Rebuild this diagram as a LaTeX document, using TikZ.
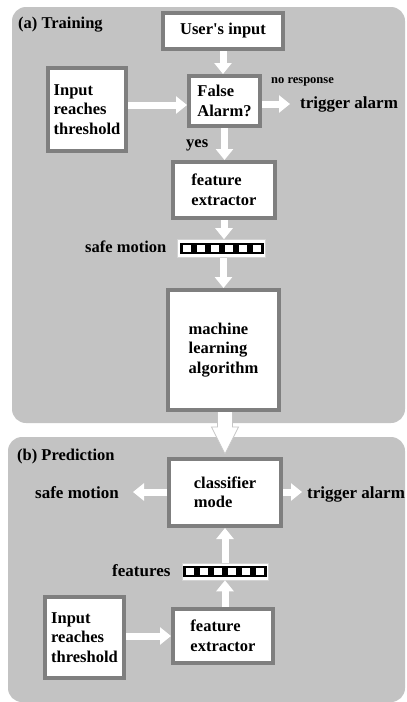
\documentclass[tikz,border=0pt]{standalone}
\usepackage{fontspec}
\setmainfont{Liberation Serif}
\usetikzlibrary{arrows.meta,calc}
\definecolor{panelgray}{HTML}{C3C3C3}
\definecolor{boxgray}{HTML}{7F7F7F}
\begin{document}
\begin{tikzpicture}[x=1pt,y=-1pt,
  every node/.style={font=\bfseries\fontsize{16.5}{19.5}\selectfont},
  box/.style={draw=boxgray, line width=4pt, fill=white, align=left, inner sep=0pt},
  lbl/.style={anchor=base west, inner sep=0pt},
  barrow/.style={draw=white, line width=7pt, -{Triangle[width=17pt,length=11pt,fill=white]}},
  vec/.style={draw=gray!35, line width=0.6pt, fill=white, minimum width=88pt, minimum height=18pt, inner sep=0pt},
  panel/.style={fill=panelgray, rounded corners=14pt}]
\useasboundingbox (0,0) rectangle (407,702);
\fill[white] (0,0) rectangle (407,702);
\path[panel] (12,7) rectangle (405,423);
\path[panel] (8,437) rectangle (405,702);

% boxes
\node[box, minimum width=120pt, minimum height=36pt] (user) at (223,31) {User\textquotesingle s input};
\node[box, minimum width=71pt, minimum height=50pt] (falarm) at (224.5,101) {False\\Alarm?};
\node[box, minimum width=78pt, minimum height=83pt] (inA) at (87,109.5) {Input\\reaches\\threshold};
\node[box, minimum width=102pt, minimum height=56pt] (featA) at (224,190) {feature\\extractor};
\node[box, minimum width=111pt, minimum height=120pt] (ml) at (223.5,350) {machine\\learning\\algorithm};
\node[box, minimum width=112pt, minimum height=67pt] (cls) at (225,492.5) {classifier\\mode};
\node[box, minimum width=79pt, minimum height=81pt] (inB) at (84.5,637.5) {Input\\reaches\\threshold};
\node[box, minimum width=100pt, minimum height=54pt] (featB) at (223,636) {feature\\extractor};

% feature vectors
\node[vec] (vecA) at (221.5,248.5) {};
\node[vec, minimum width=86pt, minimum height=17pt] (vecB) at (225,571.5) {};
\foreach \v in {vecA,vecB}{
  \fill[black] ($(\v.center)+(-42,-5.5)$) rectangle ($(\v.center)+(42,5.5)$);
  \foreach \dx in {-35,-21,-7,7,21,35}
    \fill[white] ($(\v.center)+({\dx-4},-4)$) rectangle ($(\v.center)+({\dx+4},3.5)$);
}

% labels
\node[lbl] (ta) at (18,28) {(a) Training};
\node[lbl] (tb) at (17,460) {(b) Prediction};
\node[lbl, font=\bfseries\fontsize{12.5}{14}\selectfont] (nr) at (271,83) {no response};
\node[lbl, font=\bfseries\fontsize{17}{20}\selectfont] (trA) at (300,108) {trigger alarm};
\node[lbl] (yes) at (186,147) {yes};
\node[lbl] (smA) at (85,252) {safe motion};
\node[lbl, font=\bfseries\fontsize{17}{20}\selectfont] (smB) at (35,498) {safe motion};
\node[lbl, font=\bfseries\fontsize{17}{20}\selectfont] (trB) at (307,498) {trigger alarm};
\node[lbl, font=\bfseries\fontsize{17}{20}\selectfont] (feat) at (112,576) {features};

% arrow end points
\coordinate (aY) at ([yshift=-4pt]falarm.west);
\coordinate (trAin) at (290,104);
\coordinate (smBin) at (133,492);
\coordinate (trBin) at (302,492);

% training arrows
\draw[barrow] (user.south) -- (user.south |- falarm.north);
\draw[barrow] (inA.east |- aY) -- (aY);
\draw[barrow] (falarm.east |- trAin) -- (trAin);
\draw[barrow] (falarm.south) -- (falarm.south |- featA.north);
\draw[barrow] (featA.south) -- (featA.south |- vecA.north);
\draw[barrow] (ml.north |- vecA.south) -- (ml.north);

% big arrow between panels
\coordinate (bigS) at (ml.south);
\coordinate (bigT) at ([yshift=3pt]cls.north);
\draw[draw=gray!45, fill=white, line width=0.8pt]
  ($(bigT |- bigS)+(-7.5,0)$) -- ($(bigT)+(-7.5,-27)$) -- ($(bigT)+(-13.5,-27)$)
  -- (bigT) -- ($(bigT)+(13.5,-27)$) -- ($(bigT)+(7.5,-27)$) -- ($(bigT |- bigS)+(7.5,0)$);

% prediction arrows
\draw[barrow] (cls.west |- smBin) -- (smBin);
\draw[barrow] (cls.east |- trBin) -- (trBin);
\draw[barrow] (vecB.south |- featB.north) -- (vecB.south);
\draw[barrow] (vecB.north) -- (vecB.north |- cls.south);
\draw[barrow] (inB.east |- featB.west) -- (featB.west);
\end{tikzpicture}
\end{document}
